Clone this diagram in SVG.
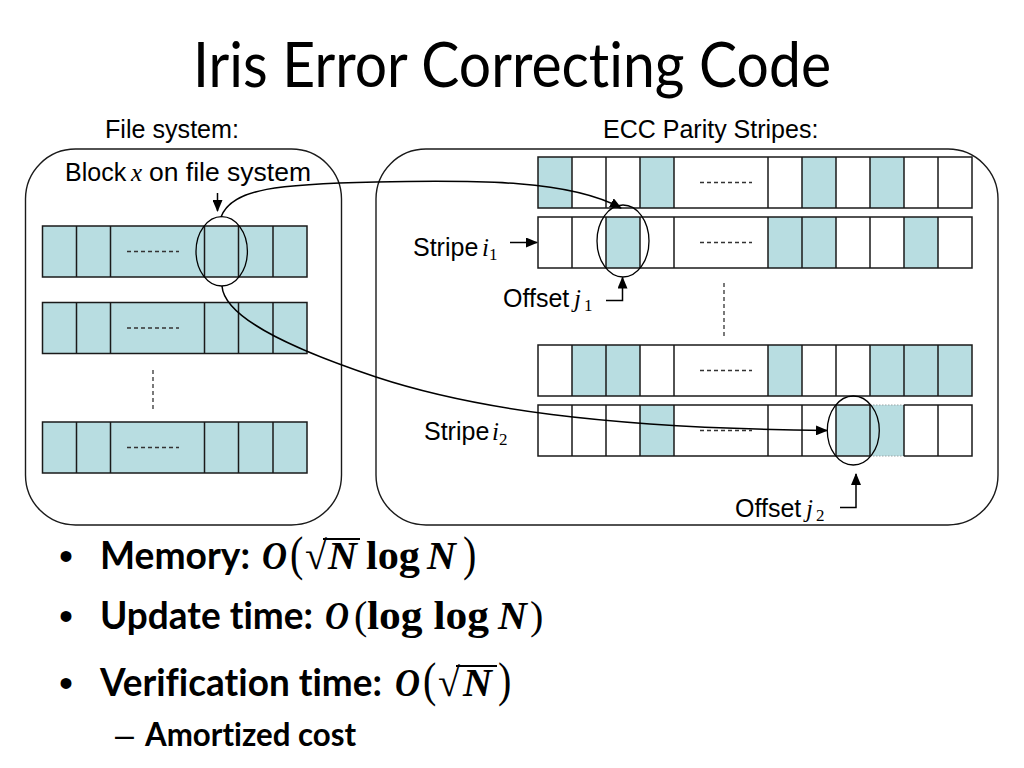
<svg xmlns="http://www.w3.org/2000/svg" width="1024" height="768" viewBox="0 0 1024 768">
<style>
.bg{fill:#ffffff}
.panel{fill:none;stroke:#1a1a1a;stroke-width:1.4}
.t{fill:#b8dde1}
.ol{fill:none;stroke:#1a1a1a;stroke-width:1.5}
.dv{stroke:#1a1a1a;stroke-width:1.5}
.dash{stroke:#333333;stroke-width:1.3;stroke-dasharray:4 3;fill:none}
.lbl{font-family:"Liberation Sans",Arial,sans-serif;font-size:25px;fill:#000}
.mi{font-family:"Liberation Serif","Times New Roman",serif;font-style:italic;font-size:25px;fill:#000}
.sub{font-family:"Liberation Serif","Times New Roman",serif;font-size:17px;fill:#000}
.title{font-family:Lato,"Open Sans",sans-serif;font-size:62px;fill:#000;font-variant-ligatures:none}
.bul{font-family:Lato,"Open Sans",sans-serif;font-weight:bold;font-size:38px;fill:#000;font-variant-ligatures:none}
.bul2{font-family:Lato,"Open Sans",sans-serif;font-weight:bold;font-size:32px;fill:#000;font-variant-ligatures:none}
.mb{font-family:"Liberation Serif","Times New Roman",serif;font-weight:bold;font-style:italic;font-size:40px;fill:#000}
.mr{font-family:"Liberation Serif","Times New Roman",serif;font-weight:bold;font-size:40px;fill:#000}
.mp{font-family:"Liberation Serif","Times New Roman",serif;font-size:40px;fill:#000}
.conn{fill:none;stroke:#000;stroke-width:1.5}
.ell{fill:none;stroke:#000;stroke-width:1.3}
</style>
<defs>
<marker id="ah" markerWidth="12" markerHeight="10" refX="11" refY="5" orient="auto" markerUnits="userSpaceOnUse">
<path d="M0,0 L12,5 L0,10 Z" fill="#000"/>
</marker>
</defs>
<rect class="bg" x="0" y="0" width="1024" height="768"/>

<text class="title" x="193" y="87" textLength="638" lengthAdjust="spacingAndGlyphs">Iris Error Correcting Code</text>

<text class="lbl" x="105" y="138" textLength="134" lengthAdjust="spacingAndGlyphs">File system:</text>
<text class="lbl" x="603" y="138">ECC Parity Stripes:</text>

<g id="fs-panel">
<rect class="panel" x="25.5" y="149" width="316" height="376" rx="50" ry="50"/>
</g>
<g id="ecc-panel">
<rect class="panel" x="376" y="149" width="622" height="376" rx="50" ry="50"/>
</g>

<!-- file system blocks -->
<g id="fs-row1">
<rect class="t" x="42.5" y="226" width="264.5" height="51"/>
<rect class="ol" x="42.5" y="226" width="264.5" height="51"/>
<path class="dv" d="M76.5,226V277M110.5,226V277M204.5,226V277M238.5,226V277M273,226V277"/>
<line class="dash" x1="127" y1="251.5" x2="179" y2="251.5"/>
</g>
<g id="fs-row2">
<rect class="t" x="42.5" y="302.5" width="264.5" height="51"/>
<rect class="ol" x="42.5" y="302.5" width="264.5" height="51"/>
<path class="dv" d="M76.5,302.5V353.5M110.5,302.5V353.5M204.5,302.5V353.5M238.5,302.5V353.5M273,302.5V353.5"/>
<line class="dash" x1="127" y1="328" x2="179" y2="328"/>
</g>
<g id="fs-gap">
<line class="dash" x1="153" y1="370" x2="153" y2="412"/>
</g>
<g id="fs-row3">
<rect class="t" x="42.5" y="422" width="264.5" height="51"/>
<rect class="ol" x="42.5" y="422" width="264.5" height="51"/>
<path class="dv" d="M76.5,422V473M110.5,422V473M204.5,422V473M238.5,422V473M273,422V473"/>
<line class="dash" x1="127" y1="447.5" x2="179" y2="447.5"/>
</g>

<!-- ECC stripes -->
<g id="ecc-row1">
<rect class="t" x="538" y="157" width="34" height="51"/>
<rect class="t" x="640" y="157" width="34" height="51"/>
<rect class="t" x="802" y="157" width="34" height="51"/>
<rect class="t" x="870" y="157" width="34" height="51"/>
<rect class="ol" x="538" y="157" width="434" height="51"/>
<path class="dv" d="M572,157V208M606,157V208M640,157V208M674,157V208M768,157V208M802,157V208M836,157V208M870,157V208M904,157V208M938,157V208"/>
<line class="dash" x1="700" y1="182.5" x2="752" y2="182.5"/>
</g>
<g id="ecc-row2">
<rect class="t" x="606" y="217" width="34" height="51"/>
<rect class="t" x="768" y="217" width="68" height="51"/>
<rect class="t" x="904" y="217" width="34" height="51"/>
<rect class="ol" x="538" y="217" width="434" height="51"/>
<path class="dv" d="M572,217V268M606,217V268M640,217V268M674,217V268M768,217V268M802,217V268M836,217V268M870,217V268M904,217V268M938,217V268"/>
<line class="dash" x1="700" y1="242.5" x2="752" y2="242.5"/>
</g>
<g id="ecc-gap">
<line class="dash" x1="724" y1="283" x2="724" y2="338"/>
</g>
<g id="ecc-row3">
<rect class="t" x="572" y="345" width="68" height="51"/>
<rect class="t" x="768" y="345" width="34" height="51"/>
<rect class="t" x="870" y="345" width="102" height="51"/>
<rect class="ol" x="538" y="345" width="434" height="51"/>
<path class="dv" d="M572,345V396M606,345V396M640,345V396M674,345V396M768,345V396M802,345V396M836,345V396M870,345V396M904,345V396M938,345V396"/>
<line class="dash" x1="700" y1="370.5" x2="752" y2="370.5"/>
</g>
<g id="ecc-row4">
<rect class="t" x="640" y="405" width="34" height="51"/>
<rect class="t" x="836" y="405" width="68" height="51"/>
<path class="ol" d="M870,405H538V456H870M904,405H972V456H904"/>
<path d="M870,405H904M870,456H904" fill="none" stroke="#9aa5a6" stroke-width="1.2" stroke-dasharray="1.5 1.5"/>
<path class="dv" d="M572,405V456M606,405V456M640,405V456M674,405V456M768,405V456M802,405V456M836,405V456M870,405V456M904,405V456M938,405V456"/>
<line class="dash" x1="700" y1="430.5" x2="752" y2="430.5"/>
</g>

<!-- highlight ellipses -->
<g id="block-x">
<ellipse class="ell" cx="221.7" cy="251.3" rx="25.7" ry="34.7"/>
</g>
<g id="offset-j1-mark">
<ellipse class="ell" cx="623" cy="241" rx="26" ry="36"/>
</g>
<g id="offset-j2-mark">
<ellipse class="ell" cx="853.3" cy="430.5" rx="26" ry="34.5"/>
</g>

<!-- labels -->
<g id="label-block">
<text class="lbl" x="65" y="181">Block</text>
<text class="mi" x="131" y="181">x</text>
<text class="lbl" x="149" y="181" textLength="162" lengthAdjust="spacingAndGlyphs">on file system</text>
</g>
<g id="label-stripe1">
<text class="lbl" x="413" y="256">Stripe</text>
<text class="mi" x="482" y="256">i</text>
<text class="sub" x="489" y="260">1</text>
</g>
<g id="label-offset1">
<text class="lbl" x="503" y="307">Offset</text>
<text class="mi" x="574" y="307">j</text>
<text class="sub" x="584" y="311">1</text>
</g>
<g id="label-stripe2">
<text class="lbl" x="424" y="440">Stripe</text>
<text class="mi" x="492" y="440">i</text>
<text class="sub" x="499" y="445">2</text>
</g>
<g id="label-offset2">
<text class="lbl" x="735" y="517">Offset</text>
<text class="mi" x="806" y="517">j</text>
<text class="sub" x="816" y="521">2</text>
</g>

<!-- connectors -->
<g id="connectors">
<line class="conn" x1="217.5" y1="193" x2="217.5" y2="211" marker-end="url(#ah)"/>
<path class="conn" d="M221,217 C232,188 280,184 376,182 C480,180 570,180 621,208" marker-end="url(#ah)"/>
<path class="conn" d="M222,286 C224,315 280,345 376,377 C470,408 600,428 827,430.5" marker-end="url(#ah)"/>
<line class="conn" x1="510" y1="242.5" x2="537" y2="242.5" marker-end="url(#ah)"/>
<polyline class="conn" points="606,300.5 622.5,300.5 622.5,277.5" marker-end="url(#ah)"/>
<polyline class="conn" points="840,507.5 856,507.5 856,474" marker-end="url(#ah)"/>
</g>

<!-- bullets -->
<g id="bullet-memory">
<text class="lbl" x="59" y="570" style="font-size:40px">•</text>
<text class="bul" x="100" y="569" textLength="150" lengthAdjust="spacingAndGlyphs">Memory:</text>
<text class="mb" x="262" y="569" textLength="25" lengthAdjust="spacingAndGlyphs">O</text>
<text class="mp" x="290" y="569" transform="translate(0,-130) scale(1,1.23)">(</text>
<text class="mp" x="305" y="569">√</text>
<line x1="323" y1="539" x2="360" y2="539" stroke="#000" stroke-width="2"/>
<text class="mb" x="328" y="569">N</text>
<text class="mr" x="366" y="569" textLength="54" lengthAdjust="spacingAndGlyphs">log</text>
<text class="mb" x="427" y="569">N</text>
<text class="mp" x="463" y="569" transform="translate(0,-130) scale(1,1.23)">)</text>
</g>
<g id="bullet-update">
<text class="lbl" x="59" y="630" style="font-size:40px">•</text>
<text class="bul" x="100" y="629" textLength="213" lengthAdjust="spacingAndGlyphs">Update time:</text>
<text class="mb" x="325" y="629" textLength="24" lengthAdjust="spacingAndGlyphs">O</text>
<text class="mp" x="354" y="629">(</text>
<text class="mr" x="367" y="629" textLength="122" lengthAdjust="spacingAndGlyphs">log log</text>
<text class="mb" x="498" y="629">N</text>
<text class="mp" x="530" y="629">)</text>
</g>
<g id="bullet-verification">
<text class="lbl" x="59" y="697" style="font-size:40px">•</text>
<text class="bul" x="100" y="696" textLength="282" lengthAdjust="spacingAndGlyphs">Verification time:</text>
<text class="mb" x="395" y="696" textLength="25" lengthAdjust="spacingAndGlyphs">O</text>
<text class="mp" x="423" y="696" transform="translate(0,-160) scale(1,1.23)">(</text>
<text class="mp" x="438" y="696">√</text>
<line x1="456" y1="666" x2="497" y2="666" stroke="#000" stroke-width="2"/>
<text class="mb" x="463" y="696">N</text>
<text class="mp" x="498" y="696" transform="translate(0,-160) scale(1,1.23)">)</text>
</g>
<g id="sub-bullet">
<text class="lbl" x="115" y="746" style="font-size:34px">–</text>
<text class="bul2" x="145" y="746" textLength="211" lengthAdjust="spacingAndGlyphs">Amortized cost</text>
</g>
</svg>
